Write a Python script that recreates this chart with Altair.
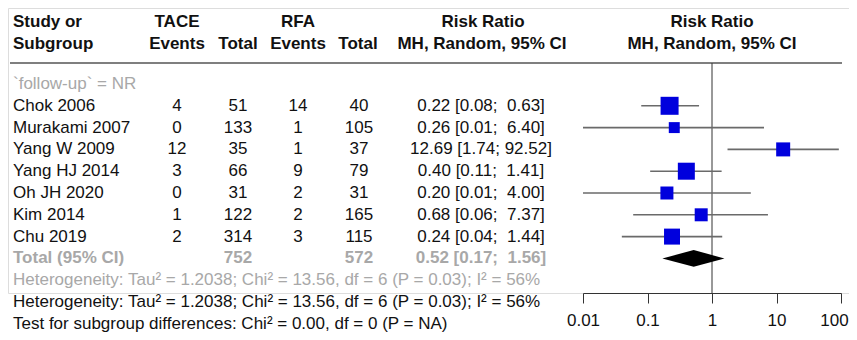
import altair as alt
import pandas as pd

# ---------------- data ----------------
studies = ["Chok 2006", "Murakami 2007", "Yang W 2009", "Yang HJ 2014",
           "Oh JH 2020", "Kim 2014", "Chu 2019"]
tace_events = [4, 0, 12, 3, 0, 1, 2]
tace_total = [51, 133, 35, 66, 31, 122, 314]
rfa_events = [14, 1, 1, 9, 2, 2, 3]
rfa_total = [40, 105, 37, 79, 31, 165, 115]
risk_ratio = [0.22, 0.26, 12.69, 0.40, 0.20, 0.68, 0.24]
ci_low = [0.08, 0.01, 1.74, 0.11, 0.01, 0.06, 0.04]
ci_high = [0.63, 6.40, 92.52, 1.41, 4.00, 7.37, 1.44]
weights = [21.3, 7.9, 12.9, 19.0, 11.1, 11.1, 16.8]   # estimated % weights

total_label = "Total (95% CI)"
total_tace = 752
total_rfa = 572
pooled_rr = 0.52
pooled_low = 0.17
pooled_high = 1.56

subgroup_label = "`follow-up` = NR"
het_text = "Heterogeneity: Tau\u00b2 = 1.2038; Chi\u00b2 = 13.56, df = 6 (P = 0.03); I\u00b2 = 56%"
test_text = "Test for subgroup differences: Chi\u00b2 = 0.00, df = 0 (P = NA)"
axis_ticks = [0.01, 0.1, 1, 10, 100]

# ---------------- styling ----------------
FONT = "Liberation Sans"
FS = 17
GRAY = "#a8a8a8"
BLACK = "#111111"
BLUE = "#0000dd"


def fmt_ci(r, lo, hi):
    hi_s = f"{hi:.2f}"
    pad = "\u00a0" if len(hi_s) < 5 else ""
    return f"{r:.2f} [{lo:.2f}; {pad}{hi_s}]"


df = pd.DataFrame({
    "study": studies,
    "tace_e": [str(v) for v in tace_events],
    "tace_n": [str(v) for v in tace_total],
    "rfa_e": [str(v) for v in rfa_events],
    "rfa_n": [str(v) for v in rfa_total],
    "rr": risk_ratio,
    "lo": ci_low,
    "hi": ci_high,
    "w": weights,
})
df["row"] = list(range(1, len(studies) + 1))
df["ci_txt"] = [fmt_ci(r, l, h) for r, l, h in zip(risk_ratio, ci_low, ci_high)]

TOTAL_ROW = len(studies) + 1
total_df = pd.DataFrame({
    "label": [total_label], "tace_n": [str(total_tace)], "rfa_n": [str(total_rfa)],
    "ci_txt": [fmt_ci(pooled_rr, pooled_low, pooled_high)], "row": [TOTAL_ROW],
})

HALF = 0.38
diamond_df = pd.DataFrame({
    "x": [pooled_low, pooled_rr, pooled_high],
    "top": [TOTAL_ROW, TOTAL_ROW - HALF, TOTAL_ROW],
    "bot": [TOTAL_ROW, TOTAL_ROW + HALF, TOTAL_ROW],
})

YSCALE = alt.Scale(domain=[0, 11], range=[76, 315.8], nice=False, zero=False)
XSCALE = alt.Scale(type="log", domain=[0.01, 100], range=[575, 833], nice=False)
XAXIS = alt.Axis(values=axis_ticks, format="~g", title=None, grid=False,
                 tickSize=10, tickColor="#333", domainColor="#333",
                 labelFontSize=FS, labelColor=BLACK, labelFont=FONT,
                 labelPadding=9, labelFlush=False, labelOverlap=False,
                 labelOffset=alt.expr("datum.value >= 100 ? -7 : 0"))


def Y(field="row"):
    return alt.Y(f"{field}:Q", scale=YSCALE, axis=None)


def X(field):
    return alt.X(f"{field}:Q", scale=XSCALE, axis=XAXIS)


def text_layer(data, field, xpx, align="center", color=BLACK, bold=False, row=None):
    base = alt.Chart(data).mark_text(
        align=align, baseline="middle", font=FONT, fontSize=FS,
        fontWeight="bold" if bold else "normal", color=color)
    enc = dict(x=alt.value(xpx), text=alt.Text(f"{field}:N"))
    if row is None:
        enc["y"] = Y()
    else:
        enc["y"] = alt.Y("r:Q", scale=YSCALE, axis=None)
    return base.encode(**enc)


def single_text(txt, row, xpx, align="center", color=BLACK, bold=False):
    d = pd.DataFrame({"t": [txt], "r": [row]})
    return text_layer(d, "t", xpx, align, color, bold, row=row)


# header texts
H1, H2 = -2.84, -1.83
headers = [
    single_text("Study or", H1, 5, "left", bold=True),
    single_text("Subgroup", H2, 5, "left", bold=True),
    single_text("TACE", H1, 169, bold=True),
    single_text("Events", H2, 169, bold=True),
    single_text("Total", H2, 230, bold=True),
    single_text("RFA", H1, 290, bold=True),
    single_text("Events", H2, 290, bold=True),
    single_text("Total", H2, 350, bold=True),
    single_text("Risk Ratio", H1, 475, bold=True),
    single_text("MH, Random, 95% CI", H2, 474, bold=True),
    single_text("Risk Ratio", H1, 704, bold=True),
    single_text("MH, Random, 95% CI", H2, 704, bold=True),
]

rule_df = pd.DataFrame({"r": [-0.96]})
header_rule = alt.Chart(rule_df).mark_rule(color="#555", strokeWidth=1.5).encode(
    x=alt.value(2), x2=alt.value(834), y=alt.Y("r:Q", scale=YSCALE, axis=None))

ref_df = pd.DataFrame({"v": [1.0], "r1": [-0.96], "r2": [9.59]})
ref_line = alt.Chart(ref_df).mark_rule(color="#333", strokeWidth=1).encode(
    x=X("v"), y=Y("r1"), y2=alt.Y2("r2"))

ci_lines = alt.Chart(df).mark_rule(color="#6a6a6a", strokeWidth=1.6).encode(
    x=X("lo"), x2=alt.X2("hi"), y=Y())

squares = alt.Chart(df).mark_point(shape="square", filled=True, opacity=1,
                                   color=BLUE).encode(
    x=X("rr"), y=Y(),
    size=alt.Size("w:Q", scale=alt.Scale(domain=[0, 21.3], range=[0, 324]), legend=None))

diamond = alt.Chart(diamond_df).mark_area(color="#000000", opacity=1).encode(
    x=X("x"), y=Y("top"), y2=alt.Y2("bot"))

body = [
    single_text(subgroup_label, 0, 5, "left", color=GRAY),
    text_layer(df, "study", 5, "left"),
    text_layer(df, "tace_e", 169),
    text_layer(df, "tace_n", 230),
    text_layer(df, "rfa_e", 290),
    text_layer(df, "rfa_n", 351),
    text_layer(df, "ci_txt", 473),
    single_text(total_label, TOTAL_ROW, 5, "left", color=GRAY, bold=True),
    text_layer(total_df, "tace_n", 230, color=GRAY, bold=True),
    text_layer(total_df, "rfa_n", 351, color=GRAY, bold=True),
    text_layer(total_df, "ci_txt", 473, color=GRAY, bold=True),
    single_text(het_text, 9, 5, "left", color=GRAY),
    single_text(het_text, 10, 5, "left"),
    single_text(test_text, 11, 5, "left"),
]

chart = alt.layer(
    header_rule, ref_line, ci_lines, squares, diamond, *headers, *body
).properties(
    width=841, height=285,
    autosize=alt.AutoSizeParams(type="none"),
    padding={"left": 0, "top": 0, "right": 0, "bottom": 40},
).configure_view(stroke=None).configure(font=FONT, background="white")

chart.save("out.html", embed_options={"renderer": "svg", "actions": False})
